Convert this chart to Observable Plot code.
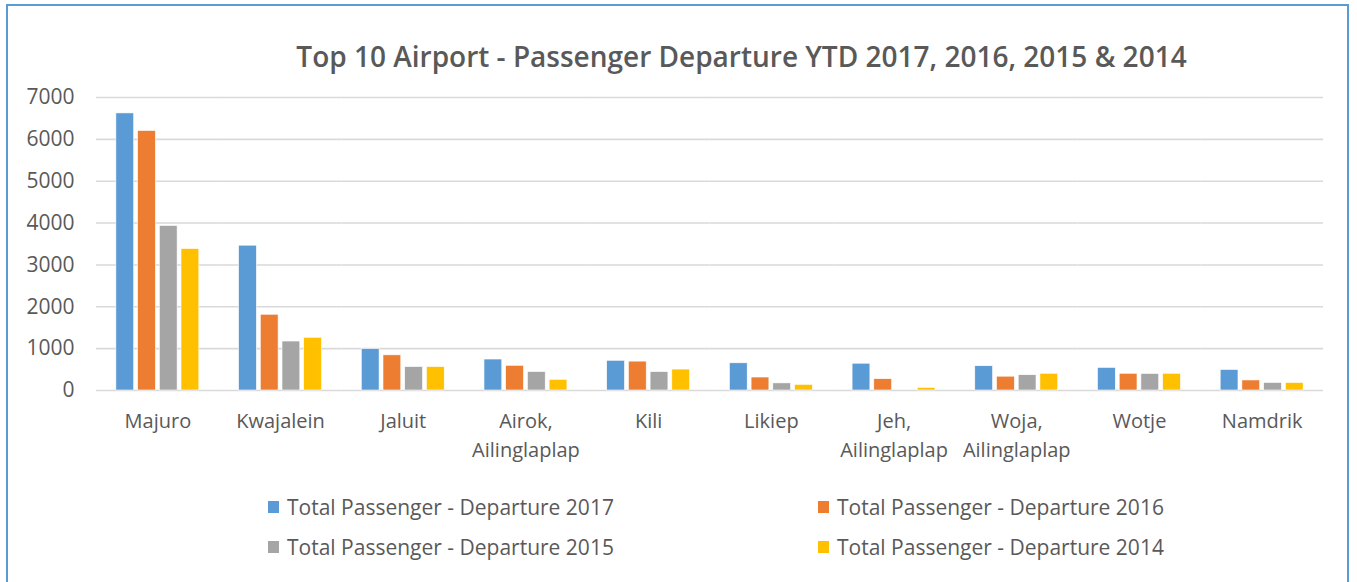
<!DOCTYPE html>
<html>
<head>
<meta charset="utf-8">
<script src="https://cdn.jsdelivr.net/npm/d3@7"></script>
<script src="https://cdn.jsdelivr.net/npm/@observablehq/plot@0.6"></script>
<style>
  html, body { margin: 0; padding: 0; background: #fff; width: 1357px; height: 582px; overflow: hidden; }
  body { position: relative; font-family: "Open Sans", sans-serif; color: #595959; }
  #frame { position: absolute; left: 6px; top: 4px; width: 1343px; height: 600px; border: 2px solid #5b9bd5; box-sizing: border-box; }
  #title { position: absolute; left: 0; width: 1483px; top: 37px; text-align: center; font-size: 28px; font-weight: 600; color: #595959; white-space: nowrap; }
  #chart { position: absolute; left: 0; top: 80px; }
  #legend { position: absolute; left: 268px; top: 493px; width: 1000px; }
  .item { position: absolute; display: flex; align-items: center; font-size: 21px; color: #595959; white-space: nowrap; }
  .sw { width: 11px; height: 12px; margin-right: 8px; }
</style>
</head>
<body>
<div id="frame"></div>
<div id="title">Top 10 Airport - Passenger Departure YTD 2017, 2016, 2015 &amp; 2014</div>
<div id="chart"></div>
<div id="legend"></div>
<script>
const airports = ["Majuro", "Kwajalein", "Jaluit", "Airok, Ailinglaplap", "Kili", "Likiep", "Jeh, Ailinglaplap", "Woja, Ailinglaplap", "Wotje", "Namdrik"];
const airportLabels = ["Majuro", "Kwajalein", "Jaluit", "Airok,\nAilinglaplap", "Kili", "Likiep", "Jeh,\nAilinglaplap", "Woja,\nAilinglaplap", "Wotje", "Namdrik"];
const seriesNames = ["Total Passenger - Departure 2017", "Total Passenger - Departure 2016", "Total Passenger - Departure 2015", "Total Passenger - Departure 2014"];
const dep2017 = [6620, 3460, 990, 740, 710, 650, 640, 580, 540, 490];
const dep2016 = [6200, 1810, 840, 590, 690, 310, 270, 330, 400, 240];
const dep2015 = [3930, 1170, 560, 440, 440, 170, 0, 365, 395, 180];
const dep2014 = [3380, 1260, 560, 255, 500, 135, 60, 400, 400, 180];
const yTicks = [0, 1000, 2000, 3000, 4000, 5000, 6000, 7000];
const seriesColors = ["#5b9bd5", "#ed7d31", "#a5a5a5", "#ffc000"];

const seriesValues = [dep2017, dep2016, dep2015, dep2014];
const data = [];
airports.forEach((a, i) => seriesNames.forEach((s, j) => data.push({airport: a, series: s, value: seriesValues[j][i]})));
const labelRows = airports.map((a, i) => ({airport: a, label: airportLabels[i]}));

const W = 1357, H = 395, mL = 96, mR = 34;
const fxPad = 0.324;
const step = (W - mL - mR) / airports.length;
const ext = fxPad / 2 * step;

const chart = Plot.plot({
  width: W, height: H,
  marginLeft: mL, marginRight: mR, marginTop: 17, marginBottom: 85,
  style: {fontFamily: "Open Sans, sans-serif", fontSize: "21px", color: "#595959", background: "transparent"},
  fx: {domain: airports, paddingInner: fxPad, paddingOuter: fxPad / 2, round: false, axis: null, label: null},
  x: {domain: seriesNames, paddingInner: 0.18, paddingOuter: 0, round: false, axis: null},
  y: {domain: [0, 7000], ticks: yTicks, tickSize: 0, tickPadding: 22 + ext, label: null, tickFormat: d3.format("d")},
  color: {domain: seriesNames, range: seriesColors},
  marks: [
    Plot.ruleY(yTicks, {stroke: "#d9d9d9", strokeWidth: 1.6, insetLeft: -ext, insetRight: -ext}),
    Plot.barY(data, {fx: "airport", x: "series", y: "value", fill: "series", stroke: "#fff", strokeWidth: 0.6}),
    Plot.text(labelRows, {fx: "airport", text: "label", frameAnchor: "bottom", lineAnchor: "top", dy: 17, lineHeight: 1.45, fontSize: 20, fill: "#595959"})
  ]
});
document.getElementById("chart").appendChild(chart);

const legend = document.getElementById("legend");
seriesNames.forEach((s, i) => {
  const el = document.createElement("div");
  el.className = "item";
  el.style.left = (i % 2 === 0 ? 0 : 550) + "px";
  el.style.top = (Math.floor(i / 2) * 40) + "px";
  el.innerHTML = `<span class="sw" style="background:${seriesColors[i]}"></span><span>${s}</span>`;
  legend.appendChild(el);
});
</script>
</body>
</html>
